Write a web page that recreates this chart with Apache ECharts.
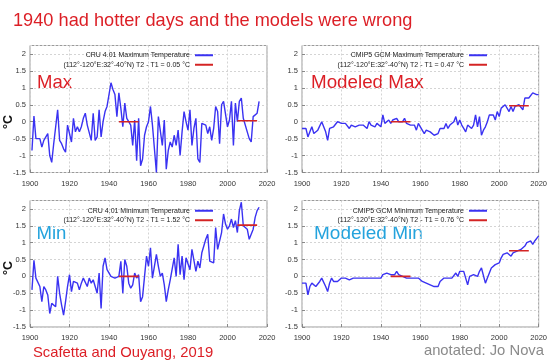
<!DOCTYPE html>
<html><head><meta charset="utf-8">
<script src="https://cdn.jsdelivr.net/npm/echarts@6/dist/echarts.min.js"></script>
<style>html,body{margin:0;padding:0;background:#fff}#c{width:550px;height:364px}</style>
</head><body><div id="c"></div><script>
// ---------- data ----------
const cruStartYear = 1901;
const gcmStartYear = 1900;
const cruMax = [-0.85,0.17,-0.5,-0.45,-0.5,-0.75,-0.55,-0.6,-0.35,-1.0,
 -1.2,-0.65,-0.6,0.35,-0.55,-0.65,-0.8,-0.9,-0.1,-0.15,
 -0.6,0.1,-0.3,-0.15,-0.3,-0.15,0.1,0.25,-0.1,-0.05,
 -0.55,0.25,-0.55,-0.45,0.35,-0.45,0.0,0.3,0.45,0.5,
 1.15,0.95,0.8,0.15,0.85,0.4,-0.15,0.55,0.1,0.0,
 -0.1,-0.7,0.05,-1.15,0.1,-1.3,-1.1,-0.4,-0.15,0.0,
 0.45,-0.1,-0.8,-1.5,0.15,0.15,-0.7,0.05,-1.4,-0.85,
 -0.6,-0.75,-0.4,-0.7,-0.25,-1.0,-0.3,0.3,0.0,-0.25,
 0.35,-0.7,-0.2,0.1,-1.1,-1.2,-0.05,0.0,-0.1,-0.35,
 -0.15,-0.55,-0.2,0.45,0.3,-0.65,0.5,0.6,0.55,-0.15,
 0.05,0.6,-0.7,0.55,0.0,0.6,0.7,0.1,0.15,-0.3,
 -0.5,-0.6,0.15,0.15,0.25,0.6];
const cruMin = [-0.4,0.48,-0.05,-0.05,-0.3,-0.75,-0.3,-0.4,-0.55,-1.1,
 -0.8,-0.75,-0.9,0.0,-0.5,-0.85,-1.15,-0.75,-0.3,0.05,
 -0.45,-0.15,-0.2,-0.2,-0.4,-0.2,-0.05,-0.1,-0.3,-0.05,
 -0.2,-0.1,-0.3,-0.5,0.1,-0.95,0.3,0.55,0.2,0.15,
 0.0,-0.05,-0.05,-0.1,0.0,0.45,-0.5,0.5,0.3,-0.2,
 -0.35,-0.25,0.1,-0.05,0.05,-0.75,-0.6,0.0,0.6,0.3,
 0.85,-0.05,-0.1,0.65,0.3,0.0,0.1,-0.25,-0.75,-0.4,
 -0.1,-0.1,0.55,0.0,0.95,0.05,0.6,-0.1,0.55,0.5,
 0.2,0.8,0.75,0.15,0.45,0.25,0.7,0.75,1.1,1.25,
 0.45,0.4,0.4,1.45,0.8,0.75,1.3,1.85,1.55,1.4,
 1.5,1.7,1.45,1.65,1.3,1.95,2.2,1.5,1.55,1.4,
 1.1,1.15,1.4,1.75,1.95,2.05];
const gcmMax = [-0.2,-0.25,-0.2,-0.45,-0.3,-0.15,-0.35,-0.3,-0.25,-0.2,
 0.0,-0.05,-0.3,-0.55,-0.2,-0.15,-0.15,-0.1,0.0,-0.05,
 -0.05,-0.05,-0.05,-0.1,-0.2,-0.1,-0.05,-0.15,-0.1,-0.1,
 -0.05,-0.1,-0.05,-0.2,0.0,-0.1,-0.05,-0.15,-0.05,-0.1,
 -0.15,0.2,-0.05,0.0,0.05,-0.05,0.05,0.0,0.1,0.0,
 0.05,0.0,0.1,-0.05,-0.05,-0.1,-0.1,-0.1,-0.25,-0.05,
 -0.15,-0.2,-0.35,-0.25,-0.2,-0.3,-0.25,-0.4,-0.45,-0.35,
 -0.2,-0.2,-0.2,-0.05,-0.2,-0.1,-0.05,0.0,0.15,-0.1,
 0.05,-0.1,-0.2,-0.3,-0.1,-0.15,-0.2,-0.1,0.2,-0.15,
 0.15,-0.4,-0.25,-0.15,0.0,0.2,0.15,0.2,0.05,0.3,
 0.15,0.4,0.35,0.5,0.45,0.3,0.45,0.3,0.45,0.4,
 0.5,0.45,0.35,0.7,0.7,0.7,0.75,0.85,0.9,0.8,0.8];
const gcmMin = [-0.2,-0.15,-0.2,-0.55,-0.3,-0.2,-0.25,-0.3,-0.35,-0.15,
 -0.05,-0.05,-0.3,-0.45,-0.2,-0.05,-0.15,-0.15,-0.15,-0.1,
 -0.05,-0.1,-0.05,-0.1,-0.1,-0.1,-0.05,-0.1,-0.05,-0.05,
 -0.05,0.0,-0.05,-0.1,-0.05,0.0,-0.05,-0.05,-0.05,-0.1,
 -0.05,0.05,0.05,0.1,0.05,0.05,0.0,0.05,0.15,0.05,
 0.1,0.0,0.05,-0.05,-0.1,-0.05,-0.1,-0.05,-0.1,-0.05,
 -0.1,-0.15,-0.2,-0.2,-0.2,-0.25,-0.25,-0.3,-0.35,-0.3,
 -0.15,-0.1,-0.05,-0.05,-0.05,0.0,-0.05,-0.1,0.1,0.0,
 0.15,0.1,0.15,-0.05,-0.25,0.0,0.05,0.05,0.1,0.0,
 0.15,0.25,0.2,-0.2,-0.05,0.1,0.25,0.3,0.35,0.4,
 0.4,0.55,0.65,0.6,0.7,0.65,0.6,0.7,0.65,0.75,
 0.7,0.8,0.75,0.9,1.0,1.0,1.05,0.95,1.05,1.1,1.2];
const periods = [[1945,1955],[2005,2015]];
const cruMaxLevels = [0.0, 0.03];
const cruMinLevels = [0.0, 1.52];
const gcmMaxLevels = [0.0, 0.47];
const gcmMinLevels = [0.0, 0.76];
const panelTitles = ['Max','Modeled Max','Min','Modeled Min'];
const lineNames = ['CRU 4.01 Maximum Temperature','CMIP5 GCM Maximum Temperature',
                   'CRU 4.01 Minimum Temperature','CMIP5 GCM Minimum Temperature'];
const diffNames = ['(112°-120°E:32°-40°N) T2 - T1 = 0.05 °C','(112°-120°E:32°-40°N) T2 - T1 = 0.47 °C',
                   '(112°-120°E:32°-40°N) T2 - T1 = 1.52 °C','(112°-120°E:32°-40°N) T2 - T1 = 0.76 °C'];
const xTickLabels = [1900,1920,1940,1960,1980,2000,2020];
const yTickLabels = [-1.5,-1,-0.5,0,0.5,1,1.5,2];

// ---------- build ----------
function toPairs(start, vals){ return vals.map((v,i)=>[start+i, v]); }
const blueData = [toPairs(cruStartYear,cruMax), toPairs(gcmStartYear,gcmMax), toPairs(cruStartYear,cruMin), toPairs(gcmStartYear,gcmMin)];
const redLevels = [cruMaxLevels, gcmMaxLevels, cruMinLevels, gcmMinLevels];

const boxes = [
  {left:30, top:45.5, width:237, height:127},
  {left:302, top:45.5, width:237, height:127},
  {left:30, top:200.5, width:237, height:126.5},
  {left:302, top:200.5, width:237, height:126.5}
];
const FONT = 'Liberation Sans, Arial, sans-serif';
const BLUE = '#3a32f2', RED = '#d42424';
const grids=[], xAxes=[], yAxes=[], series=[], legends=[];
boxes.forEach((b,i)=>{
  grids.push({left:b.left, top:b.top, width:b.width, height:b.height, show:true, borderColor:'#9a9a9a', borderWidth:1});
  xAxes.push({type:'value', gridIndex:i, position:'bottom', min:xTickLabels[0], max:xTickLabels[xTickLabels.length-1], interval:20,
    axisLine:{show:false, onZero:false}, axisTick:{show:true, inside:true, length:3, lineStyle:{color:'#888'}},
    splitLine:{show:true, lineStyle:{color:'#d4d4d4', type:[2,2], width:1}},
    axisLabel:{fontSize:7.5, color:'#333', fontFamily:FONT, margin:7, formatter:v=>String(v)}});
  yAxes.push({type:'value', gridIndex:i, min:yTickLabels[0], max:2.25, interval:0.5,
    axisLine:{show:false, onZero:false}, axisTick:{show:true, inside:true, length:3, lineStyle:{color:'#888'}},
    splitLine:{show:true, lineStyle:{color:'#d4d4d4', type:[2,2], width:1}},
    axisLabel:{fontSize:7.5, color:'#333', fontFamily:FONT, margin:4, showMaxLabel:false,
      formatter:v=> (yTickLabels.indexOf(v)>=0 ? String(v) : '')}});
  series.push({name:lineNames[i], type:'line', xAxisIndex:i, yAxisIndex:i, data:blueData[i], symbol:'none',
    lineStyle:{color:BLUE, width:1.4}, itemStyle:{color:BLUE}, z:2});
  periods.forEach((p,k)=>{
    series.push({name:diffNames[i], type:'line', xAxisIndex:i, yAxisIndex:i,
      data:[[p[0], redLevels[i][k]],[p[1], redLevels[i][k]]], symbol:'none',
      lineStyle:{color:RED, width:1.6}, itemStyle:{color:RED}, z:3});
  });
  const top = i<2 ? 51 : 206.5;
  const right = i%2===0 ? 550-213 : 550-487;
  legends.push({data:[lineNames[i], diffNames[i]], orient:'vertical', align:'right', right:right, top:top,
    icon:'rect', itemWidth:18, itemHeight:2, itemGap:1, padding:0, selectedMode:false,
    textStyle:{fontSize:7, color:'#222', fontFamily:FONT, lineHeight:8.5}});
});

const graphic = [
  {type:'text', left:13, top:12, style:{text:'1940 had hotter days and the models were wrong', fill:'#dc1f26', font:'18.2px '+FONT}},
  {type:'text', x:37, y:82.5, style:{text:panelTitles[0], fill:'#dc1f26', font:'18.5px '+FONT, verticalAlign:'middle'}},
  {type:'text', x:311, y:82.5, style:{text:panelTitles[1], fill:'#dc1f26', font:'18.8px '+FONT, verticalAlign:'middle'}},
  {type:'text', x:36.5, y:234, style:{text:panelTitles[2], fill:'#24a3dd', font:'18.6px '+FONT, verticalAlign:'middle'}},
  {type:'text', x:314, y:234, style:{text:panelTitles[3], fill:'#24a3dd', font:'19px '+FONT, verticalAlign:'middle'}},
  {type:'text', x:9, y:122, rotation:Math.PI/2, style:{text:'°C', fill:'#111', font:'bold 12.5px '+FONT, align:'center', verticalAlign:'middle'}},
  {type:'text', x:9, y:268, rotation:Math.PI/2, style:{text:'°C', fill:'#111', font:'bold 12.5px '+FONT, align:'center', verticalAlign:'middle'}},
  {type:'text', x:33, y:352.5, style:{text:'Scafetta and Ouyang, 2019', fill:'#dc1f26', font:'14.8px '+FONT, verticalAlign:'middle'}},
  {type:'text', x:544, y:350.5, style:{text:'anotated: Jo Nova', fill:'#8a8a8a', font:'14.8px '+FONT, align:'right', verticalAlign:'middle'}}
];

const chart = echarts.init(document.getElementById('c'), null, {renderer:'canvas'});
chart.setOption({animation:false, backgroundColor:'#fff', grid:grids, xAxis:xAxes, yAxis:yAxes, series:series, legend:legends, graphic:graphic});
</script></body></html>
